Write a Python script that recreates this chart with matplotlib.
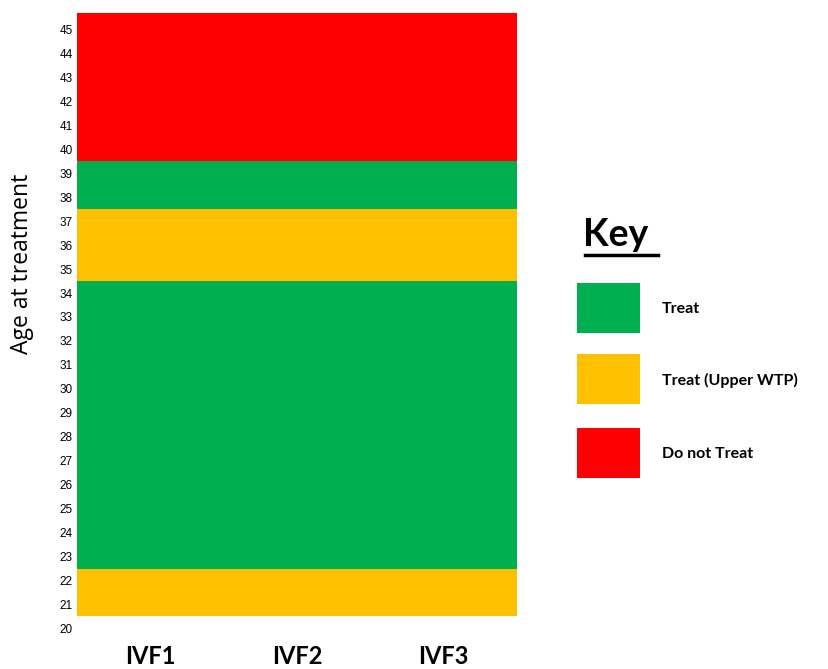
import numpy as np
import matplotlib.pyplot as plt
from matplotlib.colors import ListedColormap
from matplotlib.patches import Rectangle

# data
cycles = ["IVF1", "IVF2", "IVF3"]
ages = list(range(21, 46))
# 0 = Treat, 1 = Treat (Upper WTP), 2 = Do not Treat (same for every cycle)
decision = [1, 1,
            0, 0, 0, 0, 0, 0, 0, 0, 0, 0, 0, 0,
            1, 1, 1,
            0, 0,
            2, 2, 2, 2, 2, 2]
key_labels = ["Treat", "Treat (Upper WTP)", "Do not Treat"]
key_colors = ["#00B050", "#FFC000", "#FF0000"]
tick_ages = list(range(20, 46))

fig = plt.figure(figsize=(8.29, 6.69), dpi=100)
ax = fig.add_axes([0.0929, 0.057, 0.5307, 0.924])

grid = np.array([decision] * len(cycles)).T
x_edges = np.arange(len(cycles) + 1)
y_edges = np.array(ages + [ages[-1] + 1.2]) - 0.5
ax.pcolormesh(x_edges, y_edges, grid, cmap=ListedColormap(key_colors), vmin=0, vmax=2)

ax.set_xlim(0, len(cycles))
ax.set_ylim(19.9, 45.7)
ax.set_xticks(np.arange(len(cycles)) + 0.5)
ax.set_xticklabels(cycles, fontsize=17, fontweight="bold", family="Lato")
ax.set_yticks(tick_ages)
ax.set_yticklabels(tick_ages, fontsize=8.5, family="Liberation Sans")
ax.tick_params(axis="x", length=0, pad=10)
ax.tick_params(axis="y", length=0, pad=3)
for s in ax.spines.values():
    s.set_visible(False)

fig.text(22 / 829, 1 - 264 / 669, "Age at treatment", rotation=90, fontsize=16.5,
         family="Open Sans", ha="center", va="center")

# key
fig.text(583 / 829, 1 - 235 / 669, "Key", fontsize=27, fontweight="bold",
         family="Lato", ha="left", va="center")
fig.add_artist(plt.Line2D([585 / 829, 658 / 829], [1 - 255 / 669] * 2,
                          color="black", lw=2.5, transform=fig.transFigure))
box_tops = [283, 354, 428]
for lab, col, top in zip(key_labels, key_colors, box_tops):
    fig.add_artist(Rectangle((577 / 829, 1 - (top + 50) / 669), 63 / 829, 50 / 669,
                             facecolor=col, edgecolor="none", transform=fig.transFigure))
    fig.text(662 / 829, 1 - (top + 26) / 669, lab, fontsize=11.5, fontweight="bold",
             family="Lato", ha="left", va="center")

fig.savefig("out.png", dpi=100)
